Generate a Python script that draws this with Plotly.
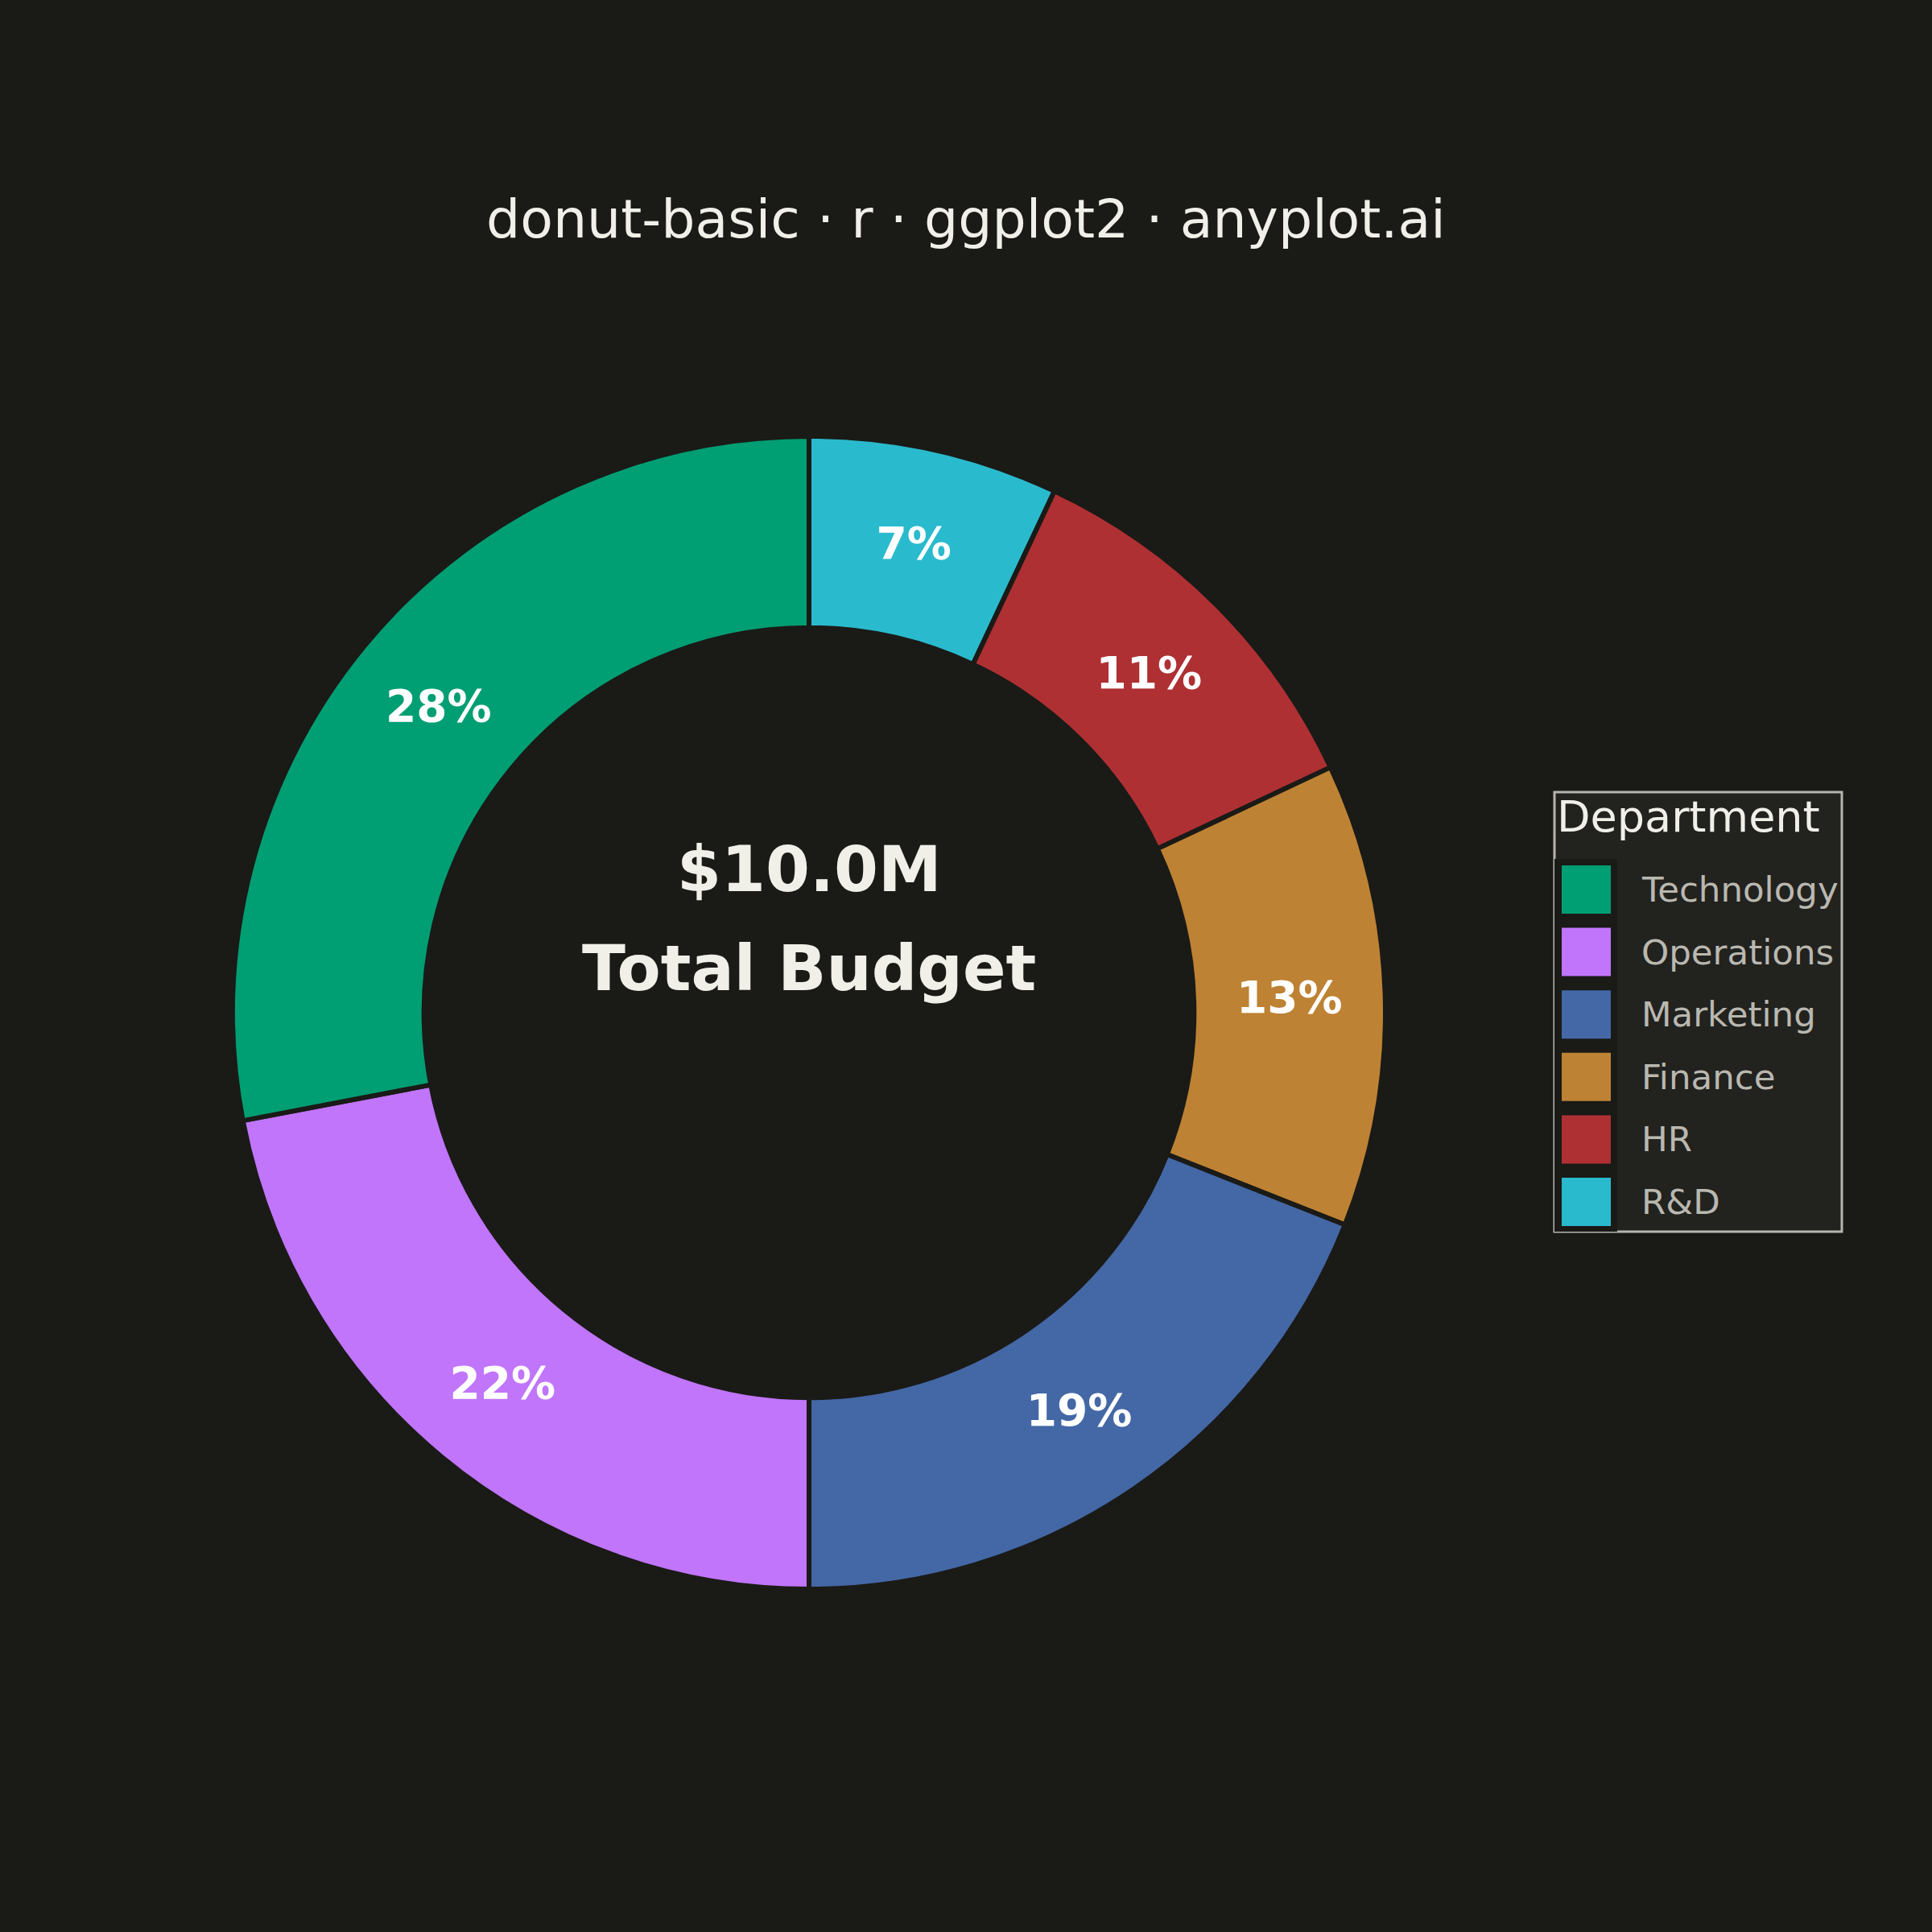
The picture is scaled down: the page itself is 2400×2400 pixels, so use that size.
import plotly.graph_objects as go

# budget split by department (USD)
departments = ["Technology", "Operations", "Marketing", "Finance", "HR", "R&D"]
budget = [2800000, 2200000, 1900000, 1300000, 1100000, 700000]
colors = ["#009E73", "#C075FB", "#4467A5", "#BD8233", "#AE3033", "#2ABACD"]

BG = "#1A1A17"
INK = "#F0EFE8"
INK_SOFT = "#B9B8B0"
W = H = 2400


def px(x, y):
    # pixel (from top-left) -> paper coords
    return x / W, 1 - y / H


total = sum(budget)
R = 716
CX, CY = 1005, 1258

fig = go.Figure()
# ggplot stacks from the top going anticlockwise -> feed reversed order clockwise
fig.add_trace(go.Pie(
    labels=departments[::-1],
    values=budget[::-1],
    hole=0.668,
    sort=False,
    direction="clockwise",
    rotation=0,
    marker=dict(colors=colors[::-1], line=dict(color=BG, width=6)),
    texttemplate="%{percent:.0%}",
    textposition="inside",
    insidetextorientation="horizontal",
    textfont=dict(family="DejaVu Sans", size=55, color="#FFFFFF", weight="bold"),
    domain=dict(x=[(CX - R) / W, (CX + R) / W], y=[1 - (CY + R) / H, 1 - (CY - R) / H]),
    showlegend=False,
    hoverinfo="label+value+percent",
))

annotations = []
# center label
cx, cy = px(1005, 1080)
annotations.append(dict(x=cx, y=cy, xref="paper", yref="paper", showarrow=False,
                        text=f"${total / 1e6:.1f}M", xanchor="center", yanchor="middle",
                        font=dict(family="DejaVu Sans", size=79, color=INK, weight="bold")))
cx, cy = px(1005, 1203)
annotations.append(dict(x=cx, y=cy, xref="paper", yref="paper", showarrow=False,
                        text="Total Budget", xanchor="center", yanchor="middle",
                        font=dict(family="DejaVu Sans", size=79, color=INK, weight="bold")))

# title
tx, ty = px(1200, 272)
annotations.append(dict(x=tx, y=ty, xref="paper", yref="paper", showarrow=False,
                        text="donut-basic · r · ggplot2 · anyplot.ai", xanchor="center", yanchor="middle",
                        font=dict(family="DejaVu Sans", size=66.5, color=INK)))

# hand-made legend (ggplot style keys)
shapes = []
lx0, ly0, lx1, ly1 = 1931, 984, 2288, 1530
shapes.append(dict(type="rect", xref="paper", yref="paper",
                   x0=lx0 / W, x1=lx1 / W, y0=1 - ly1 / H, y1=1 - ly0 / H,
                   fillcolor="#22221F", line=dict(color="#B5B4AD", width=3), layer="below"))
shapes.append(dict(type="rect", xref="paper", yref="paper",
                   x0=1931 / W, x1=2009 / W, y0=1 - 1530 / H, y1=1 - 1067 / H,
                   fillcolor=BG, line=dict(width=0), layer="below"))
lt = px(1932, 1015)
annotations.append(dict(x=lt[0], y=lt[1], xref="paper", yref="paper", showarrow=False,
                        text="Department", xanchor="left", yanchor="middle",
                        font=dict(family="DejaVu Sans", size=54, color=INK)))
for i, (name, col) in enumerate(zip(departments, colors)):
    yc = 1105 + i * 77.6
    shapes.append(dict(type="rect", xref="paper", yref="paper",
                       x0=1940 / W, x1=2001 / W, y0=1 - (yc + 30) / H, y1=1 - (yc - 30) / H,
                       fillcolor=col, line=dict(width=0)))
    p = px(2037, yc)
    annotations.append(dict(x=p[0], y=p[1], xref="paper", yref="paper", showarrow=False,
                            text=name, xanchor="left", yanchor="middle",
                            font=dict(family="DejaVu Sans", size=43.5, color=INK_SOFT)))

fig.update_layout(
    width=W, height=H,
    paper_bgcolor=BG, plot_bgcolor=BG,
    margin=dict(l=0, r=0, t=0, b=0),
    annotations=annotations,
    shapes=shapes,
)

fig.write_html("out.html", config={"displayModeBar": False},
               post_script="document.body.style.margin='0';document.body.style.background='#1A1A17';")
